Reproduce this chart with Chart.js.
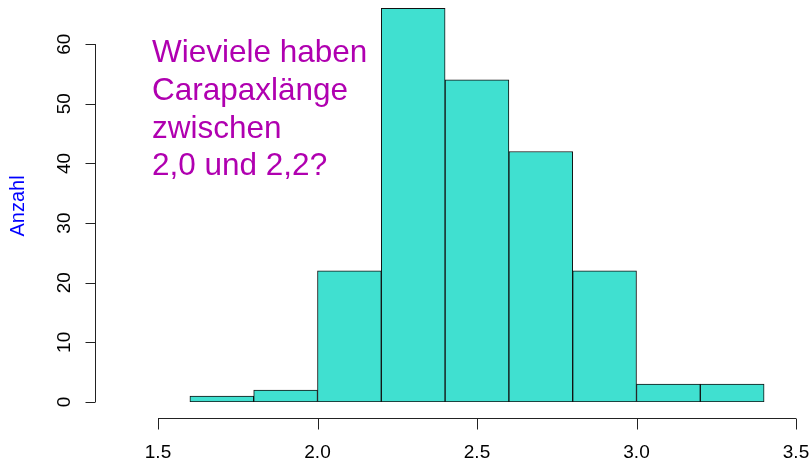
<!DOCTYPE html>
<html>
<head>
<meta charset="utf-8">
<script src="https://cdn.jsdelivr.net/npm/chart.js@4"></script>
<style>
  html, body { margin: 0; padding: 0; background: #fff; }
  #wrap { width: 812px; height: 460px; }
</style>
</head>
<body>
<div id="wrap"><canvas id="hist" width="812" height="460"></canvas></div>
<script>
// Histogramm Carapaxlänge
const breaks = [1.6, 1.8, 2.0, 2.2, 2.4, 2.6, 2.8, 3.0, 3.2, 3.4];
const counts = [1, 2, 22, 66, 54, 42, 22, 3, 3];
const xTicks = [1.5, 2.0, 2.5, 3.0, 3.5];
const yTicks = [0, 10, 20, 30, 40, 50, 60];
const yTitle = 'Anzahl';
const noteLines = ['Wieviele haben', 'Carapaxlänge', 'zwischen', '2,0 und 2,2?'];

const FONT = '"Liberation Sans", Arial, Helvetica, sans-serif';

// Balken aus den Klassengrenzen
const punkte = counts.map((c, i) => ({ x: (breaks[i] + breaks[i + 1]) / 2, y: c }));

// R-artige Achsen + Text selbst zeichnen
const rAchsen = {
    id: 'rAchsen',
    afterDraw(chart) {
        const ctx = chart.ctx;
        const xs = chart.scales.x, ys = chart.scales.y;
        const area = chart.chartArea;
        ctx.save();
        ctx.strokeStyle = '#222';
        ctx.lineWidth = 1;
        ctx.fillStyle = '#000';
        ctx.font = '19px ' + FONT;

        // x-Achse
        const ay = Math.round(area.bottom + 16) + 0.5;
        const x0 = xs.getPixelForValue(xTicks[0]);
        const x1 = xs.getPixelForValue(xTicks[xTicks.length - 1]);
        ctx.beginPath();
        ctx.moveTo(x0, ay); ctx.lineTo(x1, ay);
        xTicks.forEach(t => {
            const px = Math.round(xs.getPixelForValue(t)) + 0.5;
            ctx.moveTo(px, ay); ctx.lineTo(px, ay + 11);
        });
        ctx.stroke();
        ctx.textAlign = 'center';
        ctx.textBaseline = 'alphabetic';
        xTicks.forEach(t => ctx.fillText(t.toFixed(1), xs.getPixelForValue(t), 458));

        // y-Achse
        const ax = Math.round(area.left - 63) + 0.5;
        const yA = ys.getPixelForValue(yTicks[0]);
        const yB = ys.getPixelForValue(yTicks[yTicks.length - 1]);
        ctx.beginPath();
        ctx.moveTo(ax, yA); ctx.lineTo(ax, yB);
        yTicks.forEach(t => {
            const py = Math.round(ys.getPixelForValue(t)) + 0.5;
            ctx.moveTo(ax, py); ctx.lineTo(ax - 10, py);
        });
        ctx.stroke();
        yTicks.forEach(t => {
            ctx.save();
            ctx.translate(70, ys.getPixelForValue(t));
            ctx.rotate(-Math.PI / 2);
            ctx.fillText(String(t), 0, 0);
            ctx.restore();
        });

        // Achsentitel
        ctx.save();
        ctx.fillStyle = '#0000FF';
        ctx.font = '20px ' + FONT;
        ctx.translate(24, 206);
        ctx.rotate(-Math.PI / 2);
        ctx.fillText(yTitle, 0, 0);
        ctx.restore();

        // Frage
        ctx.fillStyle = '#B000B0';
        ctx.font = '31.5px ' + FONT;
        ctx.textAlign = 'left';
        noteLines.forEach((l, i) => ctx.fillText(l, 152, 62 + i * 37.8));
        ctx.restore();
    }
};

new Chart(document.getElementById('hist'), {
    type: 'bar',
    data: {
        datasets: [{
            data: punkte,
            backgroundColor: '#40E0D0',
            borderColor: '#111',
            borderWidth: 1,
            borderSkipped: false,
            barPercentage: 1,
            categoryPercentage: 1
        }]
    },
    options: {
        responsive: false,
        animation: false,
        layout: { padding: { left: 158, right: 16, top: 0, bottom: 58 } },
        plugins: { legend: { display: false }, tooltip: { enabled: false } },
        scales: {
            x: { type: 'linear', display: false, offset: false, min: 1.5, max: 3.5, ticks: { stepSize: 0.5 } },
            y: { display: false, min: 0, max: 67.4 }
        }
    },
    plugins: [rAchsen]
});
</script>
</body>
</html>
